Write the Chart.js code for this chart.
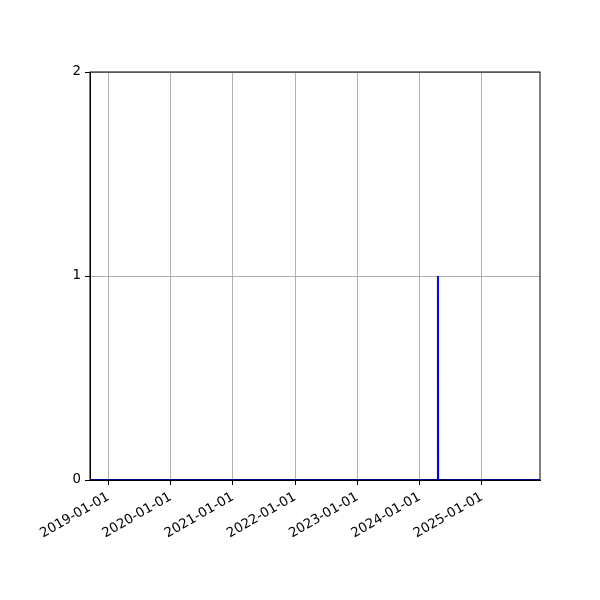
<!DOCTYPE html>
<html>
<head>
<meta charset="utf-8">
<script src="https://cdn.jsdelivr.net/npm/chart.js@4"></script>
<style>
  html, body { margin: 0; padding: 0; background: #fff; }
  #wrap { width: 600px; height: 600px; }
</style>
</head>
<body>
<div id="wrap"><canvas id="chart" width="600" height="600"></canvas></div>
<script>
// data: flat at 0, one day at 1 in April 2024
const dates = ['2018-09-15', '2024-04-17', '2024-04-18', '2024-04-19', '2025-12-08'];
const values = [0, 0, 1, 0, 0];
const xTickDates = ['2019-01-01', '2020-01-01', '2021-01-01', '2022-01-01', '2023-01-01', '2024-01-01', '2025-01-01'];
const yTicks = [0, 1, 2];

const toMs = s => Date.parse(s + 'T00:00:00Z');
const fmt = ms => new Date(ms).toISOString().split('T')[0];

const points = dates.map((d, i) => ({ x: toMs(d), y: values[i] }));

// black frame round the plot, like matplotlib spines
const frame = {
    id: 'frame',
    afterDraw(chart) {
        const { ctx, chartArea: a } = chart;
        ctx.save();
        ctx.strokeStyle = '#000';
        ctx.lineWidth = 1;
        ctx.strokeRect(a.left, a.top, a.right - a.left, a.bottom - a.top);
        ctx.restore();
    }
};

Chart.defaults.font.family = '"DejaVu Sans", sans-serif';
Chart.defaults.font.size = 13.33;
Chart.defaults.color = '#000';

new Chart(document.getElementById('chart').getContext('2d'), {
    type: 'line',
    data: {
        datasets: [{
            data: points,
            borderColor: '#0000ff',
            borderWidth: 2,
            pointRadius: 0,
            tension: 0,
            fill: false
        }]
    },
    options: {
        responsive: false,
        animation: false,
        layout: { padding: { top: 72, right: 60, left: 0, bottom: 0 } },
        plugins: { legend: { display: false }, tooltip: { enabled: false } },
        scales: {
            x: {
                type: 'linear',
                min: toMs(dates[0]),
                max: toMs(dates[dates.length - 1]),
                afterBuildTicks: axis => { axis.ticks = xTickDates.map(d => ({ value: toMs(d) })); },
                afterFit: axis => { axis.height = 120; },
                ticks: {
                    autoSkip: false,
                    minRotation: 30,
                    maxRotation: 30,
                    padding: 4,
                    callback: v => fmt(v)
                },
                grid: { color: '#b0b0b0', lineWidth: 1, tickColor: '#000', tickLength: 5 },
                border: { color: '#000' }
            },
            y: {
                min: 0,
                max: 2,
                afterBuildTicks: axis => { axis.ticks = yTicks.map(v => ({ value: v })); },
                afterFit: axis => { axis.width = 90; },
                ticks: { padding: 4, callback: v => String(v) },
                grid: { color: '#b0b0b0', lineWidth: 1, tickColor: '#000', tickLength: 5 },
                border: { color: '#000' }
            }
        }
    },
    plugins: [frame]
});
</script>
</body>
</html>
